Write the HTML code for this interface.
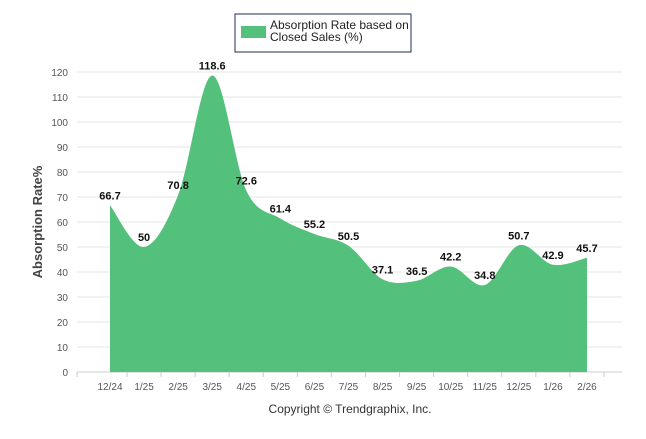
<!DOCTYPE html>
<html><head><meta charset="utf-8"><style>
body{margin:0;background:#fff;width:646px;height:434px;overflow:hidden;font-family:"Liberation Sans",sans-serif}
</style></head><body>
<svg id="c" width="646" height="434" style="font-family:'Liberation Sans',sans-serif">
<g>
<rect x="235" y="14" width="176" height="38" fill="#fff" stroke="#1f2d4f" stroke-width="1"/>
<rect x="241" y="26" width="25" height="12" fill="#53c07b"/>
<text x="270" y="29" font-size="12" fill="#222">Absorption Rate based on</text>
<text x="270" y="41" font-size="12" fill="#222">Closed Sales (%)</text>
</g>
<g id="grid"></g>
<path id="area" fill="#53c07b"/>
<g id="labels"></g>
<text transform="translate(42,222) rotate(-90)" text-anchor="middle" font-size="13" font-weight="bold" fill="#444">Absorption Rate%</text>
<text x="350" y="413" text-anchor="middle" font-size="12" fill="#333">Copyright © Trendgraphix, Inc.</text>
</svg>
<script>
const categories=["12/24","1/25","2/25","3/25","4/25","5/25","6/25","7/25","8/25","9/25","10/25","11/25","12/25","1/26","2/26"];
const values=[66.7,50,70.8,118.6,72.6,61.4,55.2,50.5,37.1,36.5,42.2,34.8,50.7,42.9,45.7];
const yTicks=[0,10,20,30,40,50,60,70,80,90,100,110,120];
const NS="http://www.w3.org/2000/svg";
const x=i=>110+i*(477/14), y=v=>372-v*2.5;
function mk(t,a,p){const e=document.createElementNS(NS,t);for(const k in a)e.setAttribute(k,a[k]);p.appendChild(e);return e;}
const grid=document.getElementById('grid'),labs=document.getElementById('labels');
yTicks.forEach(t=>{
 const l=mk('line',{x1:77,x2:622,y1:y(t),y2:y(t),stroke:t?'#e6e6e6':'#ccc','stroke-width':1},grid);
 
 
 const tx=mk('text',{x:68,y:y(t)+4,'text-anchor':'end','font-size':10,fill:'#555'},grid);
 tx.textContent=t;
 
 
});
categories.forEach((c,i)=>{
 const tk=mk('line',{x1:x(i)+17,x2:x(i)+17,y1:372,y2:377,stroke:'#ccc'},grid);
 
 
 const tx=mk('text',{x:x(i),y:390,'text-anchor':'middle','font-size':10,fill:'#555'},grid);
 tx.textContent=c;
 
 
});
mk('line',{x1:77,x2:77,y1:372,y2:377,stroke:'#ccc'},grid);
const pts=values.map((v,i)=>[x(i),y(v)]);
let d=`M${pts[0][0]},372 L${pts[0][0]},${pts[0][1]}`;
const k=1/6;
for(let i=1;i<pts.length;i++){
 const p0=pts[Math.max(i-2,0)],p1=pts[i-1],p2=pts[i],p3=pts[Math.min(i+1,pts.length-1)];
 const c1=[p1[0]+(p2[0]-p0[0])*k,p1[1]+(p2[1]-p0[1])*k];
 const c2=[p2[0]-(p3[0]-p1[0])*k,p2[1]-(p3[1]-p1[1])*k];
 d+=` C${c1[0]},${c1[1]} ${c2[0]},${c2[1]} ${p2[0]},${p2[1]}`;
}
d+=` L${pts[pts.length-1][0]},372 Z`;
document.getElementById('area').setAttribute('d',d);
values.forEach((v,i)=>{
 const t=mk('text',{x:x(i),y:y(v)-6,'text-anchor':'middle','font-size':11,'font-weight':'bold',fill:'#111'},labs);
 t.textContent=v;
 
 
});
</script>
</body></html>
